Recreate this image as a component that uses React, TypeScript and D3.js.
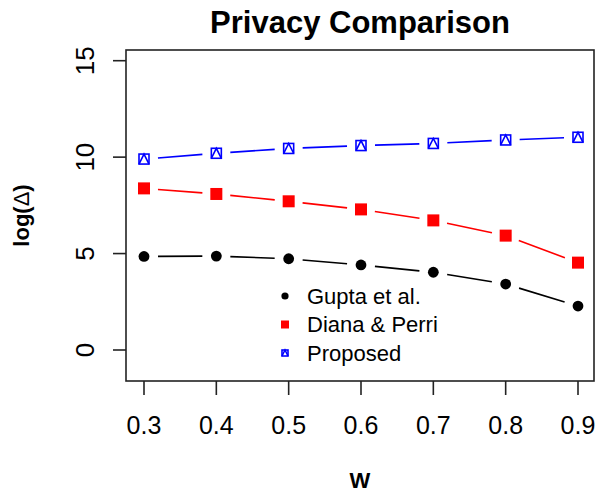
import * as d3 from 'd3';

// W values and log(Δ) for each method
const wValues = [0.3, 0.4, 0.5, 0.6, 0.7, 0.8, 0.9];
const gupta = [4.85, 4.87, 4.73, 4.41, 4.03, 3.42, 2.28];
const dianaPerri = [8.38, 8.09, 7.71, 7.29, 6.72, 5.93, 4.53];
const proposed = [9.9, 10.2, 10.45, 10.6, 10.71, 10.89, 11.03];
const yTicks = [0, 5, 10, 15];
const legendLabels = ['Gupta et al.', 'Diana & Perri', 'Proposed'];

const W = 596;
const H = 492;
const box = { left: 126, right: 594, top: 50, bottom: 381 };
const font = 'Liberation Sans, Arial, Helvetica, sans-serif';

const x = d3.scaleLinear().domain([0.3, 0.9]).range([144, 578]);
const y = d3.scaleLinear().domain([0, 15]).range([350, 60.7]);

type Shape = 'circle' | 'square' | 'sqtri';
const series: { values: number[]; color: string; shape: Shape }[] = [
  { values: gupta, color: '#000000', shape: 'circle' },
  { values: dianaPerri, color: '#ff0000', shape: 'square' },
  { values: proposed, color: '#0000ff', shape: 'sqtri' },
];

function Marker({ cx, cy, shape, color, s }: { cx: number; cy: number; shape: Shape; color: string; s: number }) {
  if (shape === 'circle') return <circle cx={cx} cy={cy} r={s * 0.45} fill={color} />;
  if (shape === 'square')
    return <rect x={cx - s / 2} y={cy - s / 2} width={s} height={s} fill={color} />;
  const h = s / 2 - 1;
  return (
    <g fill="none" stroke={color} strokeWidth={1.6}>
      <rect x={cx - h} y={cy - h} width={h * 2} height={h * 2} />
      <path d={`M${cx - h},${cy + h}L${cx},${cy - h}L${cx + h},${cy + h}`} />
    </g>
  );
}

// type="b" style segments: leave a gap around each point
function gapSegments(values: number[], gap: number) {
  const segs: string[] = [];
  for (let i = 0; i < values.length - 1; i++) {
    const x1 = x(wValues[i]), y1 = y(values[i]);
    const x2 = x(wValues[i + 1]), y2 = y(values[i + 1]);
    const len = Math.hypot(x2 - x1, y2 - y1);
    const ux = (x2 - x1) / len, uy = (y2 - y1) / len;
    segs.push(`M${x1 + ux * gap},${y1 + uy * gap}L${x2 - ux * gap},${y2 - uy * gap}`);
  }
  return segs.join('');
}

export default function App() {
  const cxPlot = (box.left + box.right) / 2;
  const cyPlot = (box.top + box.bottom) / 2;
  return (
    <svg width={W} height={H} style={{ position: 'absolute', left: 0, top: 0, background: '#fff' }} fontFamily={font}>
      <text x={cxPlot} y={33} textAnchor="middle" fontSize={31} fontWeight="bold">Privacy Comparison</text>

      {series.map((s, i) => (
        <path key={'l' + i} d={gapSegments(s.values, 14)} stroke={s.color} strokeWidth={1.6} fill="none" />
      ))}
      {series.map((s, i) =>
        s.values.map((v, j) => (
          <Marker key={`m${i}-${j}`} cx={x(wValues[j])} cy={y(v)} shape={s.shape} color={s.color} s={12} />
        ))
      )}

      <rect x={box.left} y={box.top} width={box.right - box.left} height={box.bottom - box.top} fill="none" stroke="#222" strokeWidth={1.6} />

      {/* x axis */}
      {wValues.map((w) => (
        <g key={'x' + w}>
          <line x1={x(w)} x2={x(w)} y1={box.bottom} y2={box.bottom + 14} stroke="#222" strokeWidth={1.6} />
          <text x={x(w)} y={434} textAnchor="middle" fontSize={25}>{w.toFixed(1)}</text>
        </g>
      ))}
      <text x={cxPlot} y={488} textAnchor="middle" fontSize={22} fontWeight="bold">W</text>

      {/* y axis */}
      {yTicks.map((t) => (
        <g key={'y' + t}>
          <line x1={box.left - 13} x2={box.left} y1={y(t)} y2={y(t)} stroke="#222" strokeWidth={1.6} />
          <text transform={`translate(94,${y(t)}) rotate(-90)`} textAnchor="middle" fontSize={26}>{t}</text>
        </g>
      ))}
      <text transform={`translate(29,${cyPlot}) rotate(-90)`} textAnchor="middle" fontSize={22} fontWeight="bold">
        log(<tspan fontWeight="normal">Δ</tspan>)
      </text>

      {/* legend */}
      {series.map((s, i) => (
        <g key={'lg' + i}>
          <Marker cx={285} cy={296 + i * 28.5} shape={s.shape} color={s.color} s={8} />
          <text x={307} y={296 + i * 28.5 + 7.5} fontSize={22}>{legendLabels[i]}</text>
        </g>
      ))}
    </svg>
  );
}
